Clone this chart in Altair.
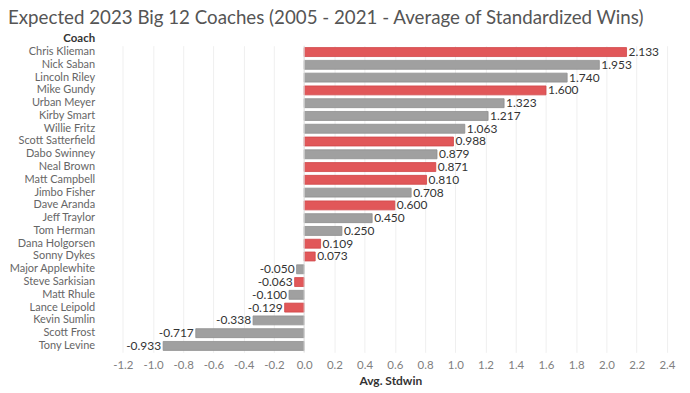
import altair as alt
import pandas as pd

coaches = ["Chris Klieman", "Nick Saban", "Lincoln Riley", "Mike Gundy", "Urban Meyer",
           "Kirby Smart", "Willie Fritz", "Scott Satterfield", "Dabo Swinney", "Neal Brown",
           "Matt Campbell", "Jimbo Fisher", "Dave Aranda", "Jeff Traylor", "Tom Herman",
           "Dana Holgorsen", "Sonny Dykes", "Major Applewhite", "Steve Sarkisian", "Matt Rhule",
           "Lance Leipold", "Kevin Sumlin", "Scott Frost", "Tony Levine"]
values = [2.133, 1.953, 1.740, 1.600, 1.323, 1.217, 1.063, 0.988, 0.879, 0.871,
          0.810, 0.708, 0.600, 0.450, 0.250, 0.109, 0.073, -0.050, -0.063, -0.100,
          -0.129, -0.338, -0.717, -0.933]
big12 = ["Chris Klieman", "Mike Gundy", "Scott Satterfield", "Neal Brown", "Matt Campbell",
         "Dave Aranda", "Dana Holgorsen", "Sonny Dykes", "Steve Sarkisian", "Lance Leipold"]
ticks = [-1.2, -1.0, -0.8, -0.6, -0.4, -0.2, 0.0, 0.2, 0.4, 0.6, 0.8, 1.0, 1.2,
         1.4, 1.6, 1.8, 2.0, 2.2, 2.4]

df = pd.DataFrame({
    "Coach": coaches,
    "val": values,
    "Group": ["Big 12" if c in big12 else "Other" for c in coaches],
})
df["lbl"] = [f"{v:.3f}" for v in values]

FONT = "Lato"

xscale = alt.Scale(domain=[-1.36, 2.5], nice=False, zero=False)
xaxis = alt.Axis(values=ticks, title="Avg. Stdwin",
                 labelExpr="replace(format(datum.value, '.1f'), '\u2212', '-')",
                 labelOverlap=False, labelSeparation=0,
                 labelColor="#808080", labelFontSize=11.5, labelFont=FONT,
                 titleColor="#333", titleFontSize=12, titleFont=FONT,
                 titleFontWeight="bold", titlePadding=5,
                 ticks=False, domain=False, grid=True,
                 gridColor="#efefef", labelPadding=7)
x = alt.X("val:Q", scale=xscale, axis=xaxis)
yscale = alt.Scale(paddingInner=0.3, paddingOuter=0.15)
yaxis = alt.Axis(title="Coach", titleAngle=0, titleAlign="right",
                 titleBaseline="bottom", titleX=-4, titleY=-2,
                 titleFont=FONT, titleFontSize=11.5, titleFontWeight="bold",
                 titleColor="#333", labelColor="#666", labelFontSize=11,
                 labelFont=FONT, ticks=False, domain=False, labelPadding=4)
y = alt.Y("Coach:N", sort=coaches, scale=yscale, axis=yaxis)

base = alt.Chart(df)

bars = base.mark_bar(strokeWidth=0.8).encode(
    x=x, y=y,
    color=alt.Color("Group:N", scale=alt.Scale(domain=["Big 12", "Other"],
                                               range=["#e15759", "#a0a0a0"]), legend=None),
    stroke=alt.Stroke("Group:N", scale=alt.Scale(domain=["Big 12", "Other"],
                                                 range=["#d04548", "#8f8f8f"]), legend=None),
)

pos = base.transform_filter("datum.val >= 0").mark_text(
    align="left", dx=2, fontSize=12, font=FONT, color="#333"
).encode(x=x, y=y, text="lbl:N")
neg = base.transform_filter("datum.val < 0").mark_text(
    align="right", dx=-2, fontSize=12, font=FONT, color="#333"
).encode(x=x, y=y, text="lbl:N")

zero = alt.Chart(pd.DataFrame({"val": [0.0]})).mark_rule(color="#e0e0e0").encode(x=x)

chart = alt.layer(bars, zero, pos, neg).properties(
    width=586, height=308,
    autosize=alt.AutoSizeParams(type="none"),
    padding={"left": 91, "top": 37, "right": 0, "bottom": 38},
    title=alt.TitleParams("Expected 2023 Big 12 Coaches (2005 - 2021 - Average of Standardized Wins)",
                          anchor="start", frame="group", dx=-91, dy=1, fontSize=18.8,
                          font=FONT, fontWeight="normal", color="#555", offset=6),
).configure_view(stroke=None)

chart.save("out.html", embed_options={"renderer": "svg", "actions": False})
